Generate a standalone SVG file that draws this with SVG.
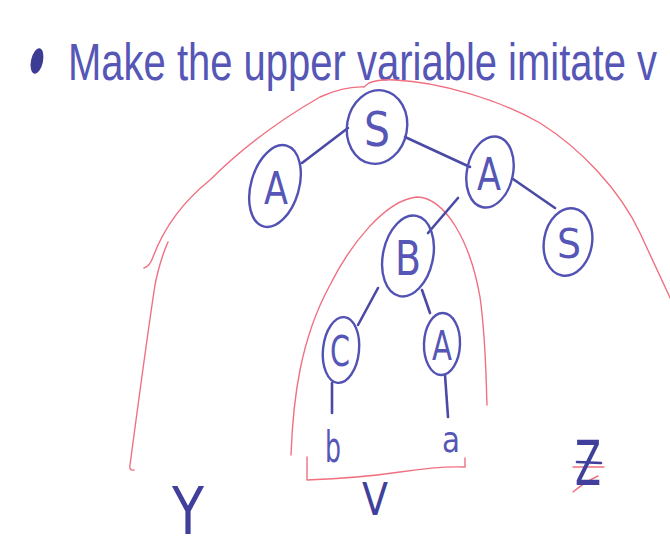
<svg xmlns="http://www.w3.org/2000/svg" width="670" height="550" viewBox="0 0 670 550">
<style>
.ink{fill:none;stroke:#5252b4;stroke-width:2.4;stroke-linecap:round}
.edge{fill:none;stroke:#4a4aa6;stroke-width:2.6;stroke-linecap:round}
.red{fill:none;stroke:#f07080;stroke-width:1.4;stroke-linecap:round;stroke-linejoin:round}
.lbl{font-family:"DejaVu Sans","Liberation Sans",sans-serif;fill:#5656b6;text-anchor:middle;font-weight:normal}
.title{font-family:"Liberation Sans",Arial,sans-serif;fill:#5656b6;font-size:40px}
.dark{fill:#40409c}
</style>
<rect width="670" height="550" fill="#ffffff"/>
<g id="title">
<ellipse cx="37" cy="61" rx="6" ry="13" transform="rotate(12 37 61)" fill="#3c3c94"/>
<text class="title" x="0" y="0" transform="translate(68 80) scale(1 1.3)">Make the upper variable imitate v</text>
</g>
<g id="brackets">
<path class="red" d="M144,268 Q150,266 153,257 C165,225 185,200 210,180 C240,150 280,120 320,97 Q345,86 364,87 L369,83 Q380,79 395,80 C440,82 500,100 540,123 C580,148 620,190 640,233 L672,302"/>
<path class="red" d="M168,242 Q160,260 155,285 C148,330 140,390 130,465 Q129,471 134,470"/>
<path class="red" d="M291,455 C293,400 300,340 330,285 C350,245 385,200 417,197 C445,198 470,240 480,297 C486,340 486,380 487,405"/>
<path class="red" d="M307,457 L307,480 Q360,478 400,472 Q440,466 465,467 L465,458"/>
</g>
<g id="connectors">
<line class="edge" x1="302" y1="163" x2="348" y2="128"/>
<line class="edge" x1="405" y1="137" x2="470" y2="167"/>
<line class="edge" x1="513" y1="179" x2="555" y2="208"/>
<line class="edge" x1="458" y1="198" x2="428" y2="233"/>
<line class="edge" x1="378" y1="288" x2="358" y2="325"/>
<line class="edge" x1="422" y1="290" x2="430" y2="313"/>
<line class="edge" x1="332" y1="383" x2="332" y2="413"/>
<line class="edge" x1="445" y1="375" x2="448" y2="417"/>
</g>
<g id="node-S-root">
<ellipse class="ink" cx="377" cy="127" rx="30" ry="37" transform="rotate(10 377 127)"/>
<text class="lbl" x="377" y="146" font-size="48" textLength="26" lengthAdjust="spacingAndGlyphs">S</text>
</g>
<g id="node-A-left">
<ellipse class="ink" cx="275" cy="186" rx="24" ry="42" transform="rotate(16 275 186)"/>
<text class="lbl" x="276" y="204" font-size="44" textLength="24" lengthAdjust="spacingAndGlyphs">A</text>
</g>
<g id="node-A-right">
<ellipse class="ink" cx="490" cy="172" rx="23" ry="36" transform="rotate(12 490 172)"/>
<text class="lbl" x="489" y="190" font-size="44" textLength="24" lengthAdjust="spacingAndGlyphs">A</text>
</g>
<g id="node-S-right">
<ellipse class="ink" cx="568" cy="242" rx="24" ry="34" transform="rotate(10 568 242)"/>
<text class="lbl" x="569" y="258" font-size="40" textLength="24" lengthAdjust="spacingAndGlyphs">S</text>
</g>
<g id="node-B">
<ellipse class="ink" cx="408" cy="256" rx="25" ry="41" transform="rotate(12 408 256)"/>
<text class="lbl" x="408" y="275" font-size="48" textLength="26" lengthAdjust="spacingAndGlyphs">B</text>
</g>
<g id="node-C">
<ellipse class="ink" cx="341" cy="350" rx="18" ry="33" transform="rotate(6 341 350)"/>
<text class="lbl" x="340" y="366" font-size="42" textLength="20" lengthAdjust="spacingAndGlyphs">C</text>
</g>
<g id="node-A-lower">
<ellipse class="ink" cx="442" cy="344" rx="18" ry="31" transform="rotate(2 442 344)"/>
<text class="lbl" x="442" y="360" font-size="40" textLength="20" lengthAdjust="spacingAndGlyphs">A</text>
</g>
<g id="leaf-b">
<text class="lbl" x="333" y="462" font-size="42" textLength="16" lengthAdjust="spacingAndGlyphs">b</text>
</g>
<g id="leaf-a">
<text class="lbl" x="451" y="452" font-size="36" textLength="18" lengthAdjust="spacingAndGlyphs">a</text>
</g>
<g id="label-V">
<text class="lbl dark" x="375" y="515" font-size="44" textLength="26" lengthAdjust="spacingAndGlyphs">V</text>
</g>
<g id="label-Y">
<text class="lbl dark" x="188" y="534" font-size="66" textLength="32" lengthAdjust="spacingAndGlyphs">Y</text>
</g>
<g id="label-Z">
<path class="red" d="M573,467 L604,467 M573,492 Q585,482 598,476"/>
<text class="lbl dark" x="588" y="485" font-size="62" textLength="26" lengthAdjust="spacingAndGlyphs">Z</text>
<line x1="577" y1="462" x2="601" y2="463" stroke="#40409c" stroke-width="2.6" stroke-linecap="round"/>
</g>
</svg>
